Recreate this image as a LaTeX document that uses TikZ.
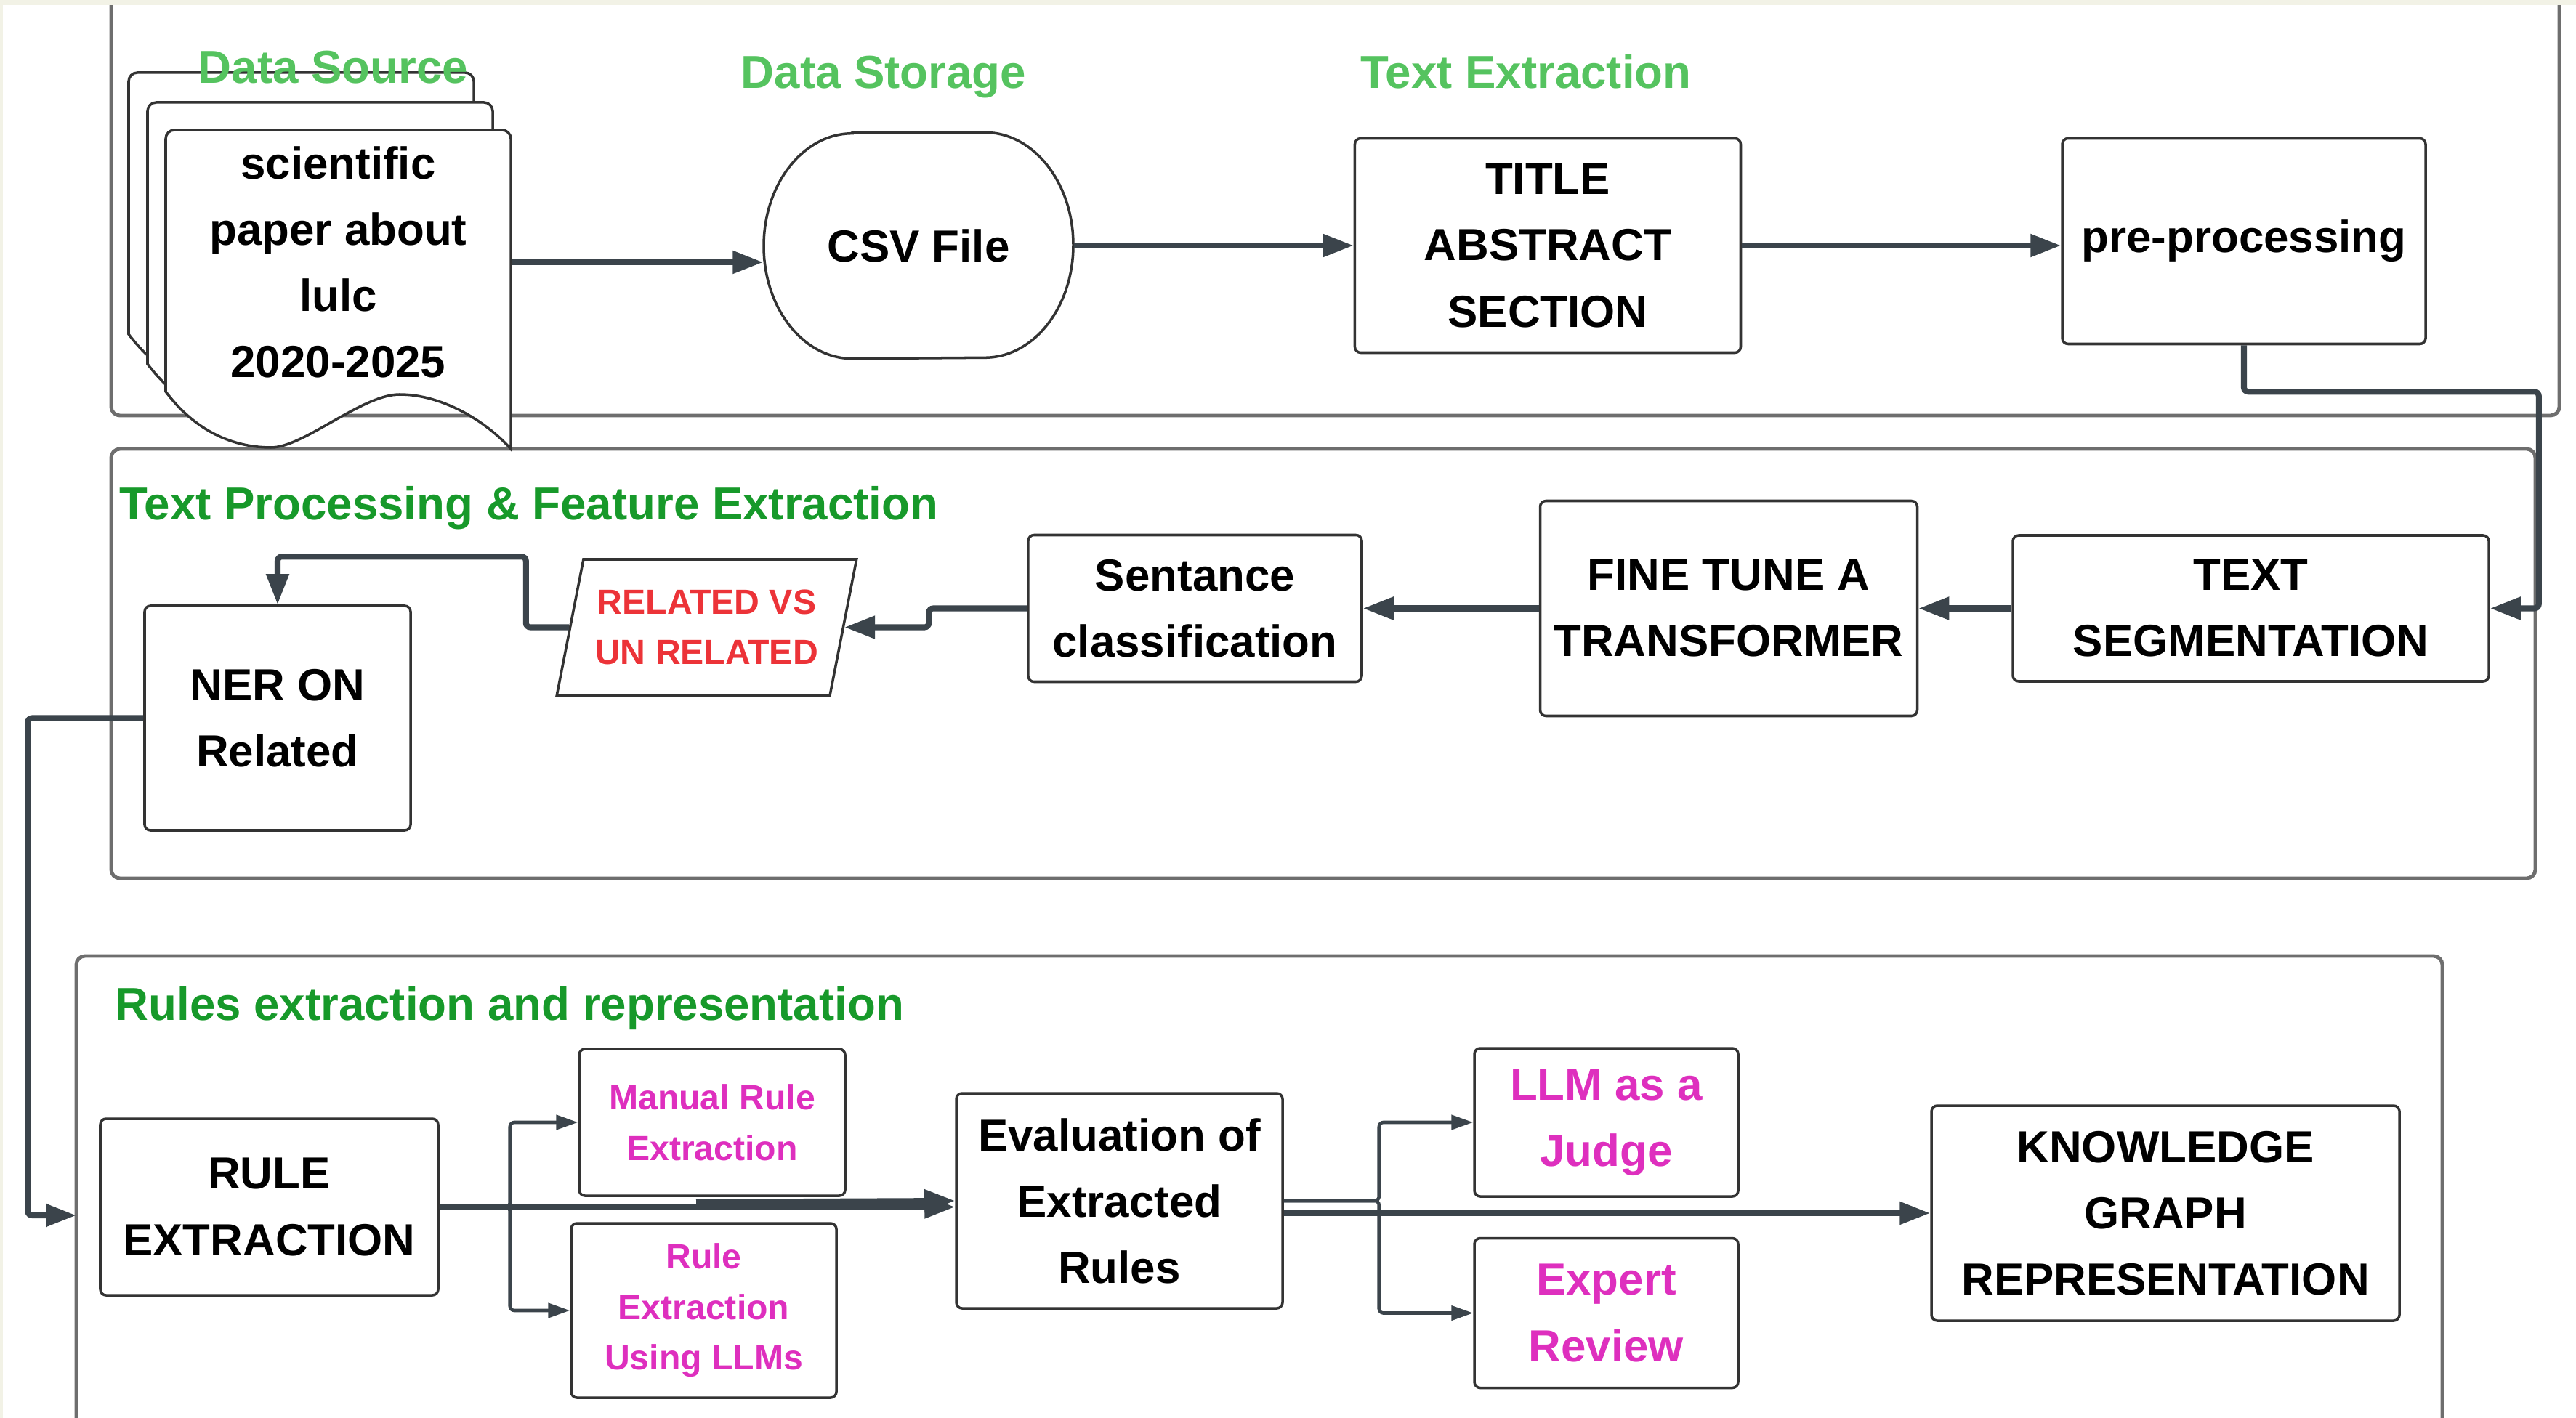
\documentclass[tikz,border=0pt]{standalone}
\usepackage{fontspec}
\setmainfont{Liberation Sans}
\usetikzlibrary{shapes.geometric, arrows.meta, positioning}
\definecolor{linkgray}{HTML}{3B444B}
\definecolor{framegray}{HTML}{6E6E6E}
\definecolor{boxline}{HTML}{333333}
\definecolor{lightgreen}{HTML}{55C35F}
\definecolor{darkgreen}{HTML}{17992A}
\definecolor{pinktext}{HTML}{DE2FBE}
\definecolor{redtext}{HTML}{EC3338}
\definecolor{cream}{HTML}{F2F2E6}
\newcommand{\blockfont}{\fontsize{17.6}{25.9}\selectfont\bfseries}
\newcommand{\stagefont}{\fontsize{18.1}{25.9}\selectfont\bfseries}
\newcommand{\notefont}{\fontsize{13.7}{19.8}\selectfont\bfseries}
\tikzstyle{block} = [rectangle, rounded corners=0.08cm, draw=boxline, line width=1pt,
    fill=white, align=center, font=\blockfont, inner sep=1pt]
\tikzstyle{pinkblock} = [block, text=pinktext, font=\notefont]
\tikzstyle{relbox} = [trapezium, trapezium left angle=73, trapezium right angle=107,
    trapezium stretches=true, minimum width=4.13cm, minimum height=1.87cm, draw=boxline,
    line width=1pt, fill=white, align=center, text=redtext, font=\notefont, inner sep=1pt]
\tikzstyle{doctext} = [minimum width=4.75cm, align=center, font=\blockfont, inner sep=0pt]
\tikzstyle{storage} = [minimum width=4.26cm, minimum height=3.10cm, font=\blockfont, inner sep=0pt]
\tikzstyle{stage} = [anchor=base west, font=\stagefont, inner sep=0pt]
\tikzstyle{sheet} = [draw=boxline, line width=1pt, fill=white]
\tikzstyle{frame} = [draw=framegray, line width=1.4pt, rounded corners=0.12cm]
\tikzstyle{arrow} = [line width=2.3pt, draw=linkgray, -{Triangle[length=0.42cm,width=0.30cm]},
    rounded corners=0.06cm]
\tikzstyle{thinarrow} = [line width=1.3pt, draw=linkgray, -{Triangle[length=0.30cm,width=0.20cm]},
    rounded corners=0.06cm]
\begin{document}
\begin{tikzpicture}[node distance=0.5cm and 1cm]
  \useasboundingbox (0,0) rectangle (35.45,-19.52);
  \clip (0,0) rectangle (35.45,-19.52);

  % stage frames
  \draw[frame] (1.53,0.3) rectangle (35.22,-5.72);
  \draw[frame] (1.53,-6.18) rectangle (34.89,-12.09);
  \draw[frame] (1.05,-13.16) rectangle (33.61,-20.0);

  % stack of papers
  \foreach \sx/\sy in {1.77/-1.00, 2.03/-1.41, 2.28/-1.79}
    \draw[sheet, shift={(\sx,\sy)}] (0,-3.60) -- (0,-0.12) arc[start angle=180, end angle=90, radius=0.12]
      -- (4.63,0) arc[start angle=90, end angle=0, radius=0.12] -- (4.75,-4.39)
      .. controls (4.40,-4.00) and (3.80,-3.64) .. (3.22,-3.64)
      .. controls (2.70,-3.64) and (1.90,-4.37) .. (1.45,-4.37)
      .. controls (1.00,-4.37) and (0.45,-4.20) .. (0,-3.60) -- cycle;

  \node (srclabel)     [stage, text=lightgreen] at (2.72,-1.15) {Data Source};
  \node (storelabel)   [stage, text=lightgreen] at (10.19,-1.22) {Data Storage};
  \node (extractlabel) [stage, text=lightgreen] at (18.72,-1.22) {Text Extraction};
  \node (proclabel)    [stage, text=darkgreen] at (1.64,-7.16) {Text Processing \& Feature Extraction};
  \node (rulelabel)    [stage, text=darkgreen] at (1.58,-14.04) {Rules extraction and representation};

  % top row
  \node (paper) [doctext] at (4.655,-3.61) {scientific\\paper about\\lulc\\2020-2025};
  \node (csv)   [storage] at (12.64,-3.38) {};
  \draw[sheet] ([xshift=-0.91cm]csv.north) -- ([xshift=0.91cm]csv.north)
    arc[start angle=90, end angle=-90, x radius=1.22cm, y radius=1.55cm]
    -- ([xshift=-0.91cm]csv.south)
    arc[start angle=270, end angle=90, x radius=1.22cm, y radius=1.55cm] -- cycle;
  \node (csvtext) at (csv) [font=\blockfont] {CSV File};
  \node (title) [block, minimum width=5.31cm, minimum height=2.95cm, right=3.85cm of csv] {TITLE\\ABSTRACT\\SECTION};
  \node (pre)   [block, minimum width=5.00cm, minimum height=2.83cm, right=4.39cm of title, yshift=0.06cm] {pre-processing};

  % middle row
  \node (textseg)  [block, minimum width=6.55cm, minimum height=2.01cm] at (30.975,-8.375) {TEXT\\SEGMENTATION};
  \node (finetune) [block, minimum width=5.19cm, minimum height=2.96cm, left=1.28cm of textseg] {FINE TUNE A\\TRANSFORMER};
  \node (sent)     [block, minimum width=4.59cm, minimum height=2.02cm, left=2.42cm of finetune] {Sentance\\classification};
  \node (rel)      [relbox] at (9.725,-8.635) {RELATED VS\\UN RELATED};
  \node (ner)      [block, minimum width=3.66cm, minimum height=3.09cm] at (3.82,-9.885) {NER ON\\Related};

  % bottom row
  \node (rule)    [block, minimum width=4.65cm, minimum height=2.43cm] at (3.705,-16.615) {RULE\\EXTRACTION};
  \node (manual)  [pinkblock, minimum width=3.66cm, minimum height=2.02cm] at (9.80,-15.45) {Manual Rule\\Extraction};
  \node (llmrule) [pinkblock, minimum width=3.65cm, minimum height=2.40cm] at (9.685,-18.04) {Rule\\Extraction\\Using LLMs};
  \node (eval)    [block, minimum width=4.49cm, minimum height=2.96cm] at (15.405,-16.53) {Evaluation of\\Extracted\\Rules};
  \node (judge)   [block, text=pinktext, minimum width=3.63cm, minimum height=2.04cm] at (22.105,-15.45) {LLM as a\\Judge};
  \node (expert)  [block, text=pinktext, minimum width=3.63cm, minimum height=2.06cm, below=0.54cm of judge] {Expert\\Review};
  \node (kg)      [block, minimum width=6.44cm, minimum height=2.96cm] at (29.80,-16.70) {KNOWLEDGE\\GRAPH\\REPRESENTATION};
  \coordinate (ruleIn) at (1.05,-16.73);

  % connectors
  \draw[arrow] (paper.east) -- (csv.west |- paper.east);
  \draw[arrow] (csv.east) -- (title.west);
  \draw[arrow] (title.east) -- (title.east -| pre.west);
  \draw[arrow] (pre.south) -- ++(0,-0.64) -| ([xshift=0.67cm]textseg.east) -- (textseg.east);
  \draw[arrow] (textseg.west) -- (finetune.east |- textseg.west);
  \draw[arrow] (finetune.west) -- (sent.east);
  \draw[arrow] (sent.west) -- ++(-1.35,0) |- (rel.east);
  \draw[arrow] (rel.west) -- ++(-0.59,0) |- ([yshift=0.66cm]ner.north) -- (ner.north);
  \draw[arrow] (ner.west) -- ++(-1.59,0) |- (ruleIn);
  \draw[thinarrow] (rule.east) -- ++(0.97,0) |- (manual.west);
  \draw[thinarrow] (rule.east) -- ++(0.97,0) |- (llmrule.west);
  \draw[arrow] (rule.east) -- (rule.east -| eval.west);
  \draw[arrow] ([xshift=-0.22cm,yshift=-0.07cm]manual.south) -- (eval.west);
  \draw[thinarrow] (eval.east) -- ++(1.31,0) |- (judge.west);
  \draw[thinarrow] (eval.east) -- ++(1.31,0) |- (expert.west);
  \draw[arrow] (kg.west -| eval.east) -- (kg.west);

  \fill[cream] (0,0) rectangle (35.45,-0.07);
  \fill[cream] (0,0) rectangle (0.04,-19.52);
\end{tikzpicture}
\end{document}
